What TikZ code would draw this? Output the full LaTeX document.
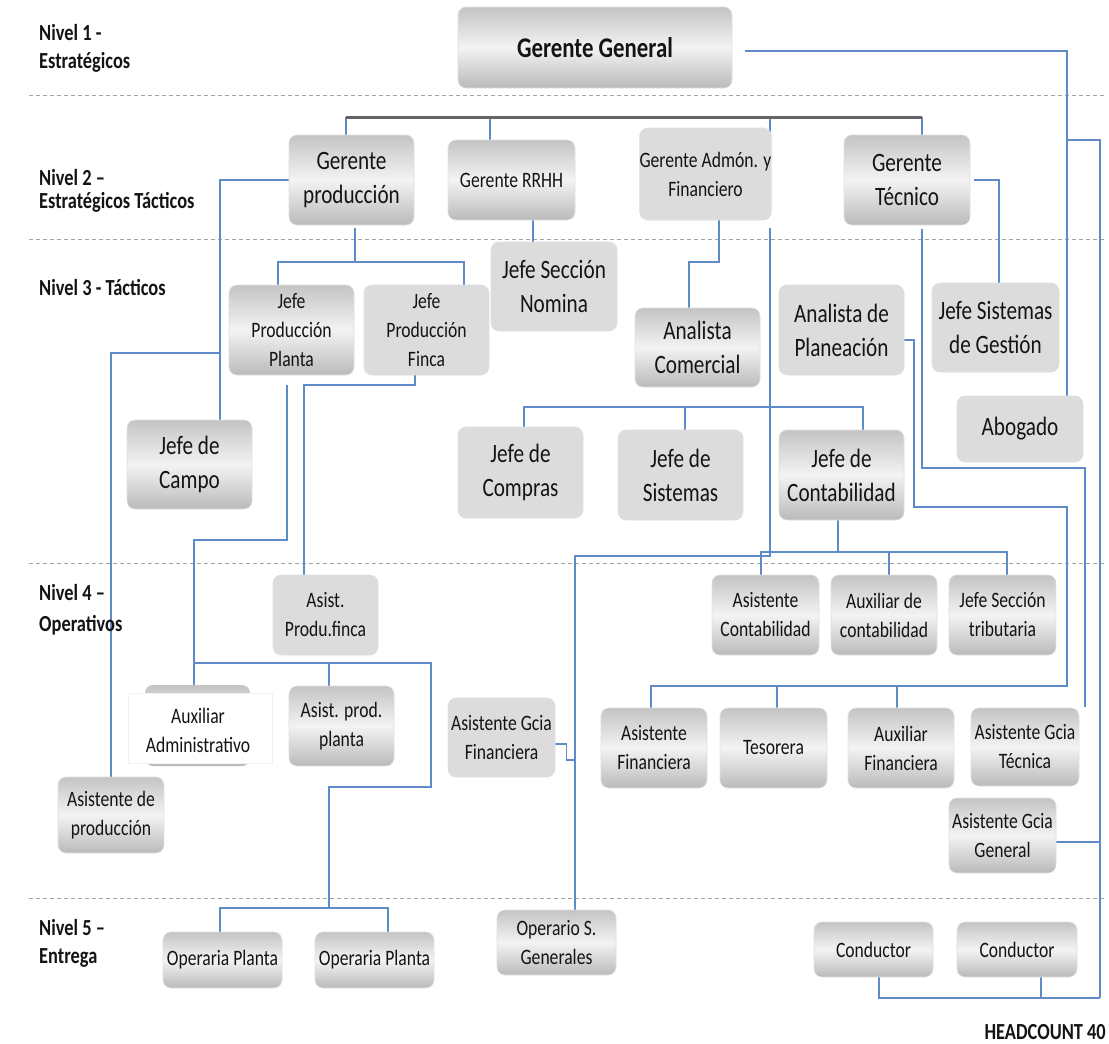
\documentclass[tikz,border=0pt]{standalone}
\usepackage{fontspec}
\setmainfont{Carlito}[FakeStretch=0.8]
\usetikzlibrary{calc}

\definecolor{wireblue}{RGB}{95,140,200}
\definecolor{bargray}{RGB}{100,100,100}
\definecolor{dashgray}{RGB}{165,165,165}
\definecolor{shTop}{RGB}{196,196,196}
\definecolor{shMid}{RGB}{243,243,243}
\definecolor{shBot}{RGB}{186,186,186}
\definecolor{flatgray}{RGB}{220,220,220}
\definecolor{ink}{RGB}{20,20,20}

\newcommand\szTop{\fontsize{28.5}{32}\selectfont}
\newcommand\szBig{\fontsize{26.5}{34}\selectfont}
\newcommand\szMid{\fontsize{22}{29}\selectfont}
\newcommand\szLab{\fontsize{23}{26}\selectfont}

\pgfdeclarelayer{paper}
\pgfdeclarelayer{bg}
\pgfsetlayers{paper,bg,main}

\tikzset{
  card/.style={rounded corners=8pt, inner sep=0pt, align=center, text=ink,
               draw=black!12, line width=0.6pt},
  shd/.style={card, top color=shTop, bottom color=shBot, middle color=shMid},
  flt/.style={card, fill=flatgray},
  big/.style={font=\szBig},
  mid/.style={font=\szMid},
  wire/.style={draw=wireblue, line width=1.4pt},
  bar/.style={draw=bargray, line width=3pt},
  lvl/.style={draw=dashgray, line width=1pt, dash pattern=on 4pt off 3pt},
  lab/.style={anchor=west, inner sep=0pt, font=\szLab\bfseries, text=ink},
}

\begin{document}
\begin{tikzpicture}[x=1pt,y=-1pt]
\useasboundingbox (0,0) rectangle (1109,1044);
\begin{pgfonlayer}{paper}
\fill[white] (0,0) rectangle (1109,1044);
\end{pgfonlayer}

% level captions
\node[lab] (l1a) at (39,33) {Nivel 1 -};
\node[lab] (l1b) at (39,62) {Estratégicos};
\node[lab] (l2a) at (39,178) {Nivel 2 –};
\node[lab] (l2b) at (39,202) {Estratégicos Tácticos};
\node[lab] (l3a) at (39,287) {Nivel 3 - Tácticos};
\node[lab] (l4a) at (39,593) {Nivel 4 –};
\node[lab] (l4b) at (39,625) {Operativos};
\node[lab] (l5a) at (39,928) {Nivel 5 –};
\node[lab] (l5b) at (39,958) {Entrega};
\node[lab, anchor=east] (hc) at (1106,1032) {HEADCOUNT 40};

% level 1
\node[shd, minimum width=274pt, minimum height=81pt, font=\szTop\bfseries] (gg) at (595,47.5) {Gerente General};

% level 2
\node[shd, big, minimum width=125pt, minimum height=90pt] (gprod) at (351.5,180) {Gerente\\producción};
\node[shd, mid, minimum width=127pt, minimum height=80pt] (grrhh) at (511.5,180) {Gerente RRHH};
\node[flt, mid, minimum width=127pt, minimum height=92pt] (gadm) at (705.5,174) {Gerente Admón. y\\Financiero};
\node[shd, big, minimum width=126pt, minimum height=90pt] (gtec) at (907,180) {Gerente\\Técnico};

% level 3
\node[shd, mid, minimum width=125pt, minimum height=90pt] (jpp) at (291.5,330) {Jefe\\Producción\\Planta};
\node[flt, mid, minimum width=125pt, minimum height=90pt] (jpf) at (426.5,330) {Jefe\\Producción\\Finca};
\node[flt, big, minimum width=126pt, minimum height=89pt] (jsn) at (554,286.5) {Jefe Sección\\Nomina};
\node[shd, big, minimum width=125pt, minimum height=79pt] (acom) at (697.5,347.5) {Analista\\Comercial};
\node[flt, big, minimum width=125pt, minimum height=90pt] (aplan) at (841.5,330) {Analista de\\Planeación};
\node[flt, big, minimum width=127pt, minimum height=89pt] (jsg) at (995.5,327.5) {Jefe Sistemas\\de Gestión};
\node[flt, big, minimum width=126pt, minimum height=66pt] (abog) at (1020,429) {Abogado};
\node[shd, big, minimum width=125pt, minimum height=89pt] (jcampo) at (189.5,464.5) {Jefe de\\Campo};
\node[flt, big, minimum width=125pt, minimum height=91pt] (jcomp) at (520.5,472.5) {Jefe de\\Compras};
\node[flt, big, minimum width=125pt, minimum height=90pt] (jsis) at (680.5,475) {Jefe de\\Sistemas};
\node[shd, big, minimum width=125pt, minimum height=90pt] (jcont) at (841.5,475) {Jefe de\\Contabilidad};

% level 4
\node[flt, mid, minimum width=105pt, minimum height=80pt] (apf) at (325.5,615) {Asist.\\Produ.finca};
\node[shd, mid, minimum width=107pt, minimum height=80pt] (acont) at (765.5,615) {Asistente\\Contabilidad};
\node[shd, mid, minimum width=106pt, minimum height=80pt] (auxc) at (884,615) {Auxiliar de\\contabilidad};
\node[shd, mid, minimum width=107pt, minimum height=80pt] (jst) at (1002.5,615) {Jefe Sección\\tributaria};

% Auxiliar Administrativo: mostly white card with a grey rim at top and bottom
\shade[top color=shTop, bottom color=shBot, middle color=shMid, rounded corners=8pt] (145,685) rectangle (250,766);
\fill[white, draw=black!5, line width=0.6pt] (128,693) rectangle (272,763);
\node[mid, inner sep=0pt, align=center, text=ink, minimum width=105pt, minimum height=80pt] (auxadm) at (198,730) {Auxiliar\\Administrativo};

\node[shd, mid, minimum width=105pt, minimum height=80pt] (app) at (341.5,726) {Asist. prod.\\planta};
\node[flt, mid, minimum width=107pt, minimum height=79pt] (agf) at (501.5,737.5) {Asistente Gcia\\Financiera};
\node[shd, mid, minimum width=106pt, minimum height=76pt] (aprod) at (111,815) {Asistente de\\producción};
\node[shd, mid, minimum width=106pt, minimum height=80pt] (afin) at (654,748) {Asistente\\Financiera};
\node[shd, mid, minimum width=107pt, minimum height=80pt] (tes) at (773.5,748) {Tesorera};
\node[shd, mid, minimum width=106pt, minimum height=80pt] (auxf) at (901,748) {Auxiliar\\Financiera};
\node[shd, mid, minimum width=108pt, minimum height=78pt] (agt) at (1025,747) {Asistente Gcia\\Técnica};
\node[shd, mid, minimum width=107pt, minimum height=75pt] (agg) at (1002.5,835.5) {Asistente Gcia\\General};

% level 5
\node[shd, mid, minimum width=119pt, minimum height=56pt] (op1) at (222.5,960) {Operaria Planta};
\node[shd, mid, minimum width=119pt, minimum height=56pt] (op2) at (374.5,960) {Operaria Planta};
\node[shd, mid, minimum width=119pt, minimum height=65pt] (osg) at (556.5,942.5) {Operario S.\\Generales};
\node[shd, mid, minimum width=119pt, minimum height=55pt] (cond1) at (873.5,949.5) {Conductor};
\node[shd, mid, minimum width=120pt, minimum height=55pt] (cond2) at (1017,949.5) {Conductor};

\begin{pgfonlayer}{bg}
% level separators
\draw[lvl] (29,95) -- (1105,95);
\draw[lvl] (29,239) -- (1105,239);
\draw[lvl] (29,563) -- (1105,563);
\draw[lvl] (29,898) -- (1105,898);

% managers bus
\coordinate (barL) at (346,117);
\coordinate (barR) at (922,117);
\coordinate (bRH) at (490,117);
\coordinate (bAF) at (770,117);
\draw[wire] (barL) -- (barL |- gprod.north);
\draw[wire] (bRH) -- (bRH |- grrhh.north);
\draw[wire] (bAF) -- ([yshift=-12pt]gadm.north -| bAF);
\draw[wire] (barR) -- (barR |- gtec.north);
\draw[bar] (barL) -- (barR);

% Gerente General to staff on the right
\coordinate (gR) at (1067,51);
\coordinate (gB) at (1100,140);
\coordinate (cBus) at (1100,998);
\draw[wire] ([xshift=13pt,yshift=-3.5pt]gg.east) -- (gR) -- (gR |- abog.north);
\draw[wire] (gR |- gB) -- (gB) -- (cBus);
\draw[wire] ([yshift=-6.5pt]agg.east) -- ([yshift=-6.5pt]agg.east -| gB);
\draw[wire] ([xshift=5.5pt]cond1.south) |- (cBus);
\draw[wire] ([xshift=24pt]cond2.south) -- ([xshift=24pt]cond2.south |- cBus);

% Gerente producción, left branch
\coordinate (pL) at (220,180);
\coordinate (pA) at (220,353);
\coordinate (pB) at (111,353);
\draw[wire] (gprod.west) -- (pL) -- (pL |- jcampo.north);
\draw[wire] (pA) -- (pB) -- (aprod.north);

% Gerente producción, downward branch
\coordinate (pD) at (355,262);
\coordinate (jL) at (278,262);
\coordinate (jR) at (464,262);
\draw[wire] ([xshift=3.5pt,yshift=-3pt]gprod.south) -- (pD);
\draw[wire] (jL |- jpp.north) -- (jL) -- (jR) -- (jR |- jpf.north);

% Gerente RRHH to Jefe Sección Nomina
\draw[wire] ([xshift=21.5pt]grrhh.south) -- ([xshift=21.5pt]grrhh.south |- jsn.north);

% Gerente Admón. y Financiero to Analista Comercial
\coordinate (aD) at (719,262);
\coordinate (aE) at (689,262);
\draw[wire] ([xshift=13.5pt]gadm.south) -- (aD) -- (aE) -- (aE |- acom.north);

% Admón. trunk down to Operario S. Generales
\coordinate (vT) at (770,228);
\coordinate (vB) at (770,556);
\coordinate (vL) at (575,556);
\draw[wire] (vT) -- (vB) -- (vL) -- (vL |- osg.north);
\draw[wire] ([yshift=-6.5pt]agf.east) -- ++(11,0) -- ++(0,16) -- ++(9,0);

% jefes bus
\coordinate (cL) at (524,407);
\coordinate (cS) at (685,407);
\coordinate (cR) at (863,407);
\draw[wire] (cL |- jcomp.north) -- (cL) -- (cR) -- (cR |- jcont.north);
\draw[wire] (cS) -- (cS |- jsis.north);

% Gerente Técnico branches
\coordinate (tR) at (999,180);
\draw[wire] ([xshift=4pt]gtec.east) -- (tR) -- (tR |- jsg.north);
\coordinate (tD) at (922,468);
\coordinate (tE) at (1085,468);
\draw[wire] ([xshift=15pt,yshift=-4pt]gtec.south) -- (tD) -- (tE) -- ([yshift=1pt]tE |- agt.north);

% Analista de Planeación to finance row
\coordinate (plR) at (914,340);
\coordinate (plD) at (914,507);
\coordinate (plE) at (1067,507);
\coordinate (fR) at (1067,686);
\coordinate (fL) at (651,686);
\coordinate (fT) at (777,686);
\coordinate (fA) at (897,686);
\draw[wire] ([yshift=-10pt]aplan.east) -- (plR) -- (plD) -- (plE) -- (fR) -- (fL) -- (fL |- afin.north);
\draw[wire] (fT) -- (fT |- tes.north);
\draw[wire] (fA) -- (fA |- auxf.north);

% Jefe de Contabilidad to its staff
\coordinate (kD) at (838,552);
\coordinate (kL) at (761,552);
\coordinate (kM) at (889,552);
\coordinate (kR) at (1007,552);
\draw[wire] ([xshift=-3.5pt]jcont.south) -- (kD);
\draw[wire] (kL |- acont.north) -- (kL) -- (kR) -- (kR |- jst.north);
\draw[wire] (kM) -- (kM |- auxc.north);

% Jefe Producción Finca to Asist. Produ.finca
\coordinate (fa) at (415,385);
\coordinate (fb) at (304,385);
\draw[wire] ([xshift=-11.5pt]jpf.south) -- (fa) -- (fb) -- (fb |- apf.north);

% Jefe Producción Planta down to plant staff
\coordinate (pp2) at (287,540);
\coordinate (pp3) at (194,540);
\coordinate (pp4) at (194,692);
\coordinate (m1) at (194,663);
\coordinate (m2) at (431,663);
\coordinate (m3) at (329,663);
\coordinate (m4) at (431,787);
\coordinate (m5) at (329,787);
\coordinate (m6) at (329,908);
\coordinate (oL) at (220,908);
\coordinate (oR) at (388,908);
\draw[wire] ([xshift=-4.5pt,yshift=-10pt]jpp.south) -- (pp2) -- (pp3) -- (pp4);
\draw[wire] (m1) -- (m2) -- (m4) -- (m5) -- (m6);
\draw[wire] (m3) -- (m3 |- app.north);
\draw[wire] (oL |- op1.north) -- (oL) -- (oR) -- (oR |- op2.north);
\end{pgfonlayer}
\end{tikzpicture}
\end{document}
